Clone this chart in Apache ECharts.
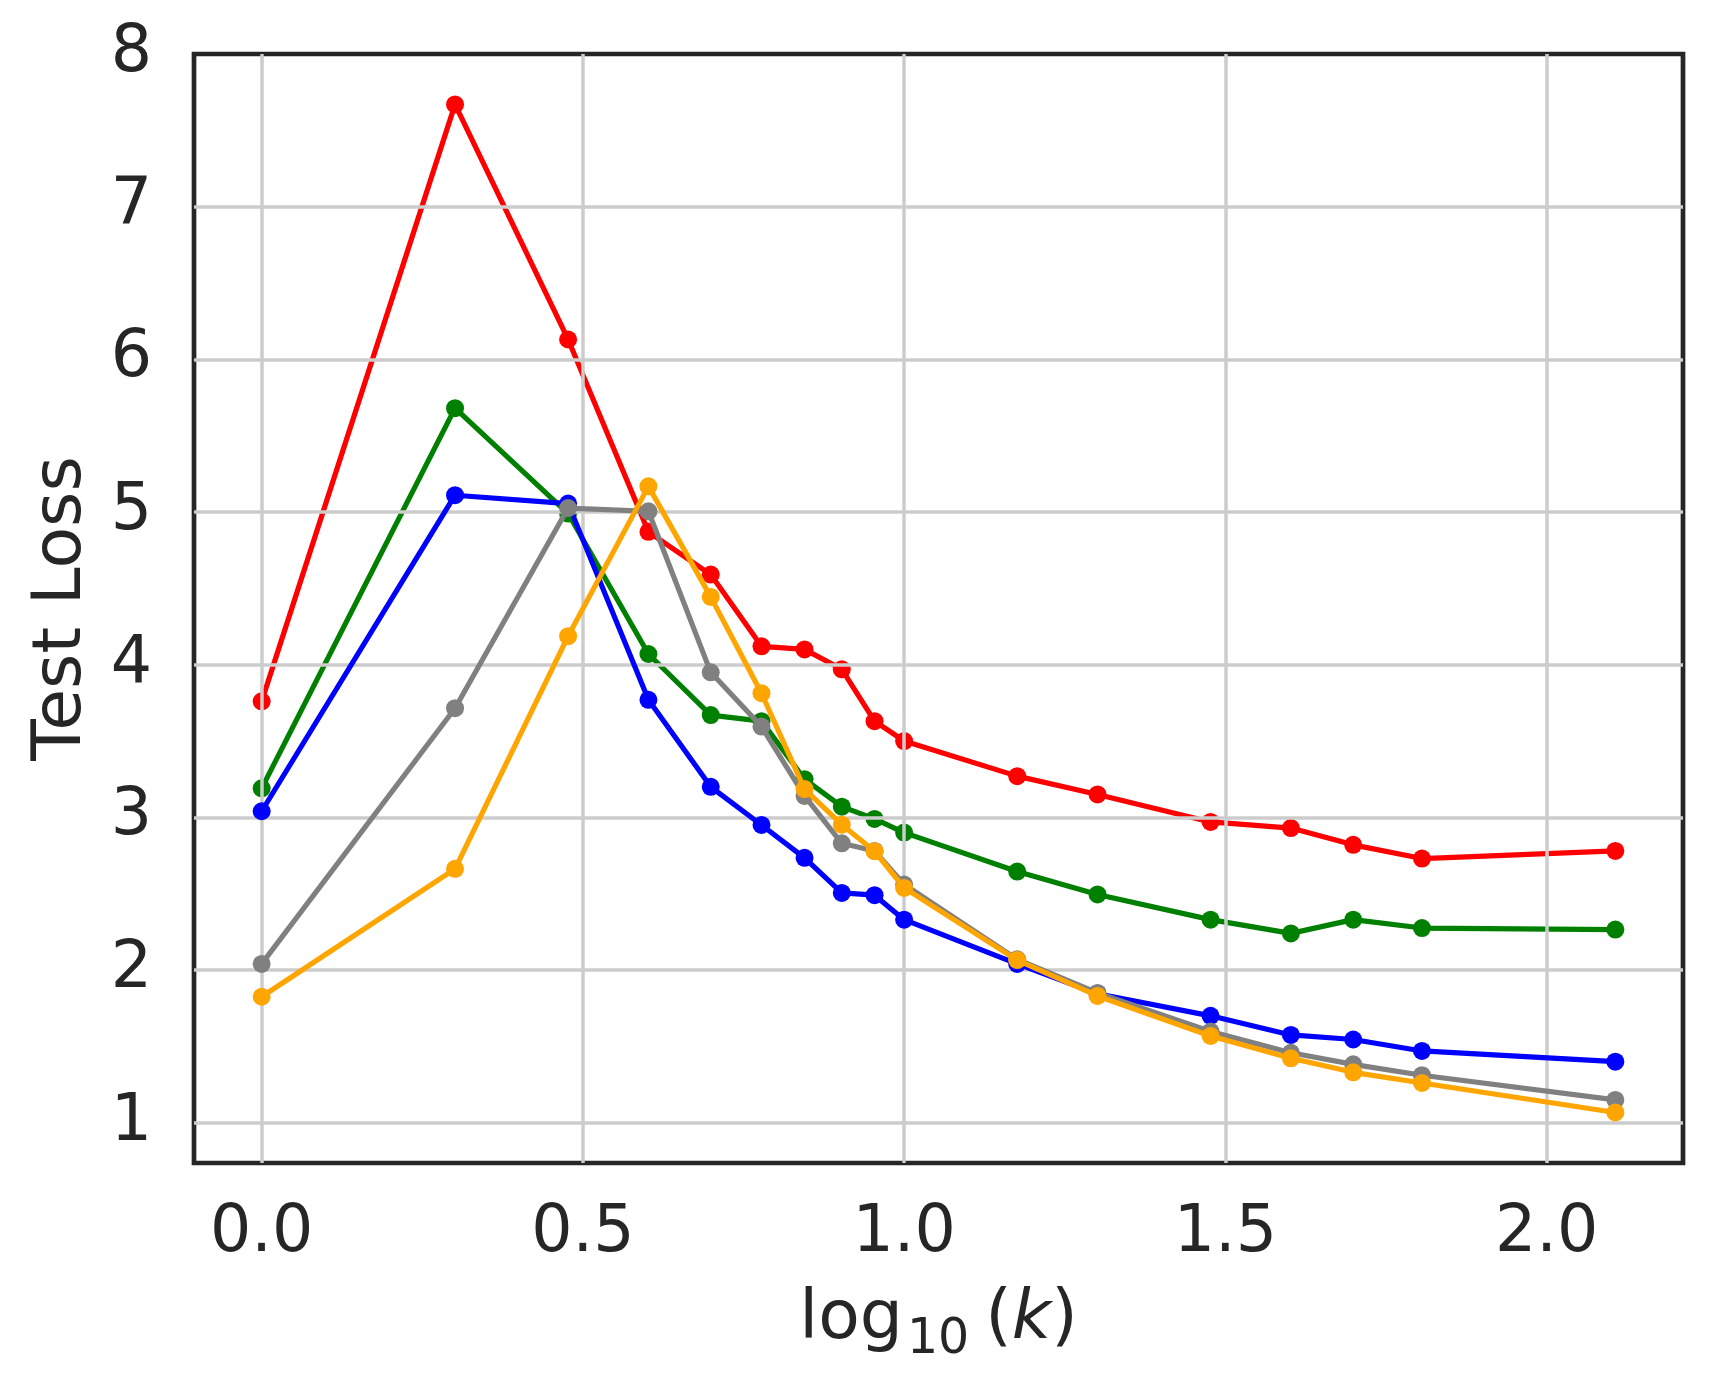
<!DOCTYPE html>
<html>
<head>
<meta charset="utf-8">
<script src="https://cdn.jsdelivr.net/npm/echarts@6/dist/echarts.min.js"></script>
<style>
html,body{margin:0;padding:0;background:#ffffff;}
#chart{width:1712px;height:1382px;}
</style>
</head>
<body>
<div id="chart"></div>
<script>
// x positions: log10(k) for k = 1,2,3,4,5,6,7,8,9,10,15,20,30,40,50,64,128
const logK = [0, 0.301, 0.477, 0.602, 0.699, 0.778, 0.845, 0.903, 0.954, 1.0, 1.176, 1.301, 1.477, 1.602, 1.699, 1.806, 2.107];

const redLoss    = [3.76, 7.67, 6.13, 4.87, 4.59, 4.12, 4.10, 3.97, 3.63, 3.50, 3.27, 3.15, 2.97, 2.93, 2.82, 2.73, 2.78];
const greenLoss  = [3.19, 5.68, 4.99, 4.07, 3.67, 3.63, 3.25, 3.07, 2.99, 2.90, 2.645, 2.495, 2.33, 2.24, 2.33, 2.275, 2.265];
const blueLoss   = [3.04, 5.11, 5.055, 3.77, 3.20, 2.95, 2.735, 2.505, 2.49, 2.33, 2.04, 1.845, 1.70, 1.575, 1.545, 1.47, 1.40];
const grayLoss   = [2.04, 3.715, 5.026, 5.005, 3.95, 3.595, 3.14, 2.83, 2.78, 2.56, 2.07, 1.85, 1.597, 1.458, 1.382, 1.311, 1.149];
const orangeLoss = [1.825, 2.663, 4.187, 5.168, 4.444, 3.813, 3.185, 2.952, 2.778, 2.538, 2.065, 1.83, 1.568, 1.422, 1.33, 1.26, 1.067];

const xTicks = [0, 0.5, 1.0, 1.5, 2.0];
const xTickLabels = ['0.0', '0.5', '1.0', '1.5', '2.0'];
const yTicks = [1, 2, 3, 4, 5, 6, 7, 8];
const yTickLabels = ['1', '2', '3', '4', '5', '6', '7', '8'];

const xRange = [-0.1053, 2.2123];
const yRange = [0.736, 8.0];

const seriesDefs = [
  { name: 'red', color: '#ff0000', values: redLoss },
  { name: 'green', color: '#008000', values: greenLoss },
  { name: 'blue', color: '#0000ff', values: blueLoss },
  { name: 'gray', color: '#808080', values: grayLoss },
  { name: 'orange', color: '#ffa500', values: orangeLoss }
];

const textColor = '#262626';
const font = 'DejaVu Sans';

const gridLineData = []
  .concat(xTicks.filter(v => v > xRange[0] && v < xRange[1]).map(v => ({ xAxis: v })))
  .concat(yTicks.filter(v => v > yRange[0] && v < yRange[1]).map(v => ({ yAxis: v })));

const series = [{
  type: 'line',
  name: 'grid',
  data: [],
  z: 1,
  silent: true,
  markLine: {
    silent: true,
    symbol: ['none', 'none'],
    label: { show: false },
    emphasis: { disabled: true },
    lineStyle: { color: '#cccccc', width: 3.5, type: 'solid' },
    data: gridLineData
  }
}].concat(seriesDefs.map((s, i) => ({
  type: 'line',
  name: s.name,
  data: logK.map((x, j) => [x, s.values[j]]),
  symbol: 'circle',
  symbolSize: 18,
  showSymbol: true,
  z: 3 + i,
  lineStyle: { color: s.color, width: 5.2 },
  itemStyle: { color: s.color },
  emphasis: { disabled: true }
})));

const chart = echarts.init(document.getElementById('chart'), null, { renderer: 'canvas' });
chart.setOption({
  animation: false,
  backgroundColor: '#ffffff',
  grid: {
    left: 194, right: 29, top: 54, bottom: 219,
    show: true,
    z: 2,
    backgroundColor: 'transparent',
    borderColor: textColor,
    borderWidth: 4.7
  },
  xAxis: {
    type: 'value',
    min: xRange[0],
    max: xRange[1],
    axisLine: { show: false },
    axisTick: { show: false, customValues: xTicks },
    splitLine: { show: false },
    axisLabel: {
      customValues: xTicks,
      margin: 39,
      fontSize: 65,
      fontFamily: font,
      color: textColor,
      formatter: v => {
        const idx = xTicks.findIndex(t => Math.abs(t - v) < 1e-6);
        return idx >= 0 ? xTickLabels[idx] : '';
      }
    },
    name: '{m|log}{s|10}{m|(}{i|k}{m|)}',
    nameLocation: 'middle',
    nameGap: 112,
    nameTextStyle: {
      rich: {
        m: { fontSize: 68, fontFamily: font, color: textColor, lineHeight: 90 },
        s: { fontSize: 49, fontFamily: font, color: textColor, lineHeight: 49, verticalAlign: 'bottom', padding: [0, 16, 0, 4] },
        i: { fontSize: 68, fontFamily: font, color: textColor, lineHeight: 90, fontStyle: 'italic' }
      }
    }
  },
  yAxis: {
    type: 'value',
    min: yRange[0],
    max: yRange[1],
    axisLine: { show: false },
    axisTick: { show: false, customValues: yTicks },
    splitLine: { show: false },
    axisLabel: {
      customValues: yTicks,
      margin: 42,
      fontSize: 65,
      fontFamily: font,
      color: textColor,
      padding: [8, 0, 0, 0],
      formatter: v => {
        const idx = yTicks.findIndex(t => Math.abs(t - v) < 1e-6);
        return idx >= 0 ? yTickLabels[idx] : '';
      }
    },
    name: 'Test Loss',
    nameLocation: 'middle',
    nameGap: 98,
    nameRotate: 90,
    nameTextStyle: { fontSize: 68, fontFamily: font, color: textColor }
  },
  series: series
});
</script>
</body>
</html>
